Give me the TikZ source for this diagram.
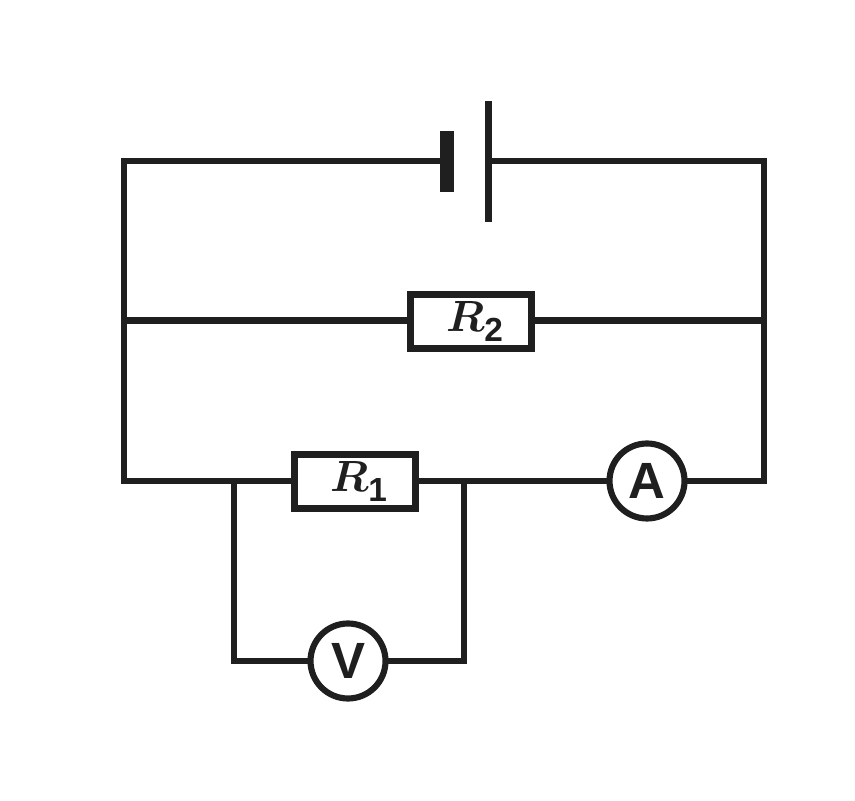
\documentclass[tikz,border=0pt]{standalone}
\usepackage{fontspec}
\newfontfamily\labelfont{Liberation Sans}
\newcommand{\reslabel}[1]{{\hspace*{0.16cm}\fontsize{26}{26}\selectfont\boldmath $R_{\raisebox{-1.5pt}{\labelfont\bfseries\fontsize{19}{19}\selectfont #1}}$}}
\newcommand{\meterlabel}[1]{{\labelfont\bfseries\fontsize{29}{29}\selectfont #1}}
\begin{document}
\begin{tikzpicture}[inner sep=0pt,outer sep=0pt,line width=3.5pt,color={black!88},
resblock/.style={draw,rectangle,minimum width=2.42cm,minimum height=1.08cm},
meter/.style={draw,circle,minimum size=1.5cm},
plate/.style={rectangle,fill,draw=none}]
\useasboundingbox (0,0) rectangle (17.1,16);
\draw (8.94,12.77) node[plate,minimum width=0.28cm,minimum height=1.22cm] (batneg) {};
\draw (9.77,12.77) node[plate,minimum width=0.14cm,minimum height=2.42cm] (batpos) {};
\draw (9.42,9.57) node[resblock] (R2) {\reslabel{2}};
\draw (7.1,6.37) node[resblock] (R1) {\reslabel{1}};
\draw (12.94,6.38) node[meter] (A) {\meterlabel{A}};
\draw (6.96,2.78) node[meter] (V) {\meterlabel{V}};
\coordinate (tl) at (2.48,12.78);
\coordinate (tr) at (15.28,12.78);
\coordinate (ml) at (2.48,9.59);
\coordinate (mr) at (15.28,9.59);
\coordinate (bl) at (2.48,6.38);
\coordinate (br) at (15.28,6.38);
\coordinate (vl) at (4.68,6.38);
\coordinate (vr) at (9.28,6.38);
\draw[line join=miter] (batneg.west |- tl) -- (tl) -- (bl) -- (R1.west |- bl);
\draw[line join=miter] (batpos.east |- tr) -- (tr) -- (br) -- (A.east);
\draw (ml) -- (R2.west |- ml);
\draw (R2.east |- mr) -- (mr);
\draw (R1.east |- bl) -- (A.west);
\draw[line join=miter] (vl) |- (V.west);
\draw[line join=miter] (vr) |- (V.east);
\end{tikzpicture}
\end{document}
